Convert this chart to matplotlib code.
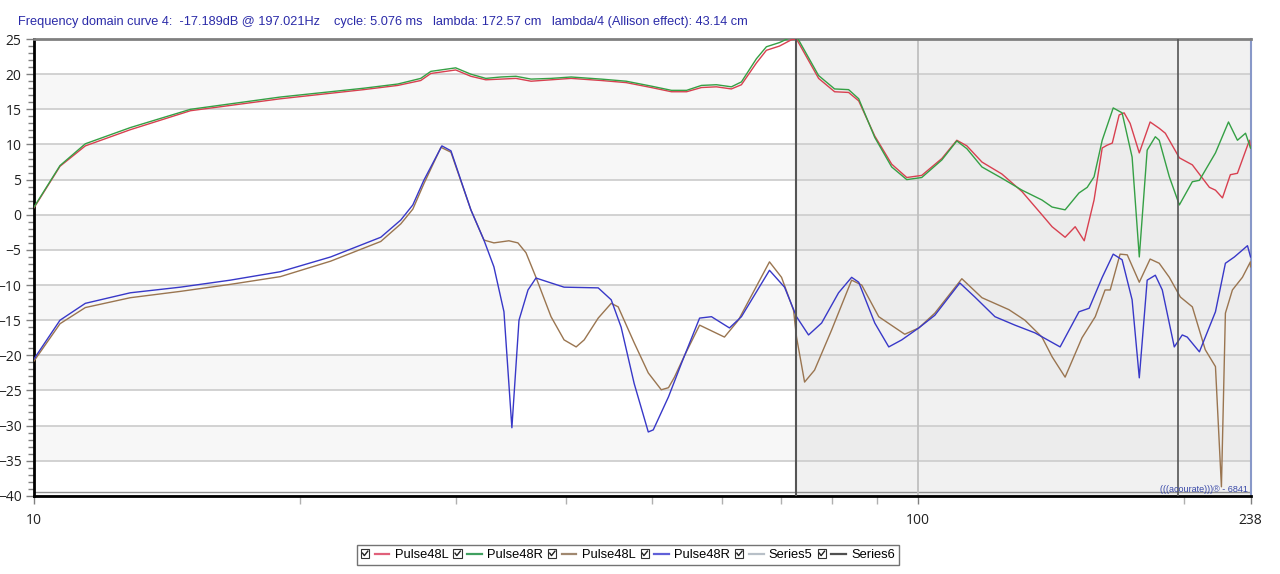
import numpy as np
import matplotlib.pyplot as plt
from matplotlib.legend_handler import HandlerBase
from matplotlib.lines import Line2D
from matplotlib.patches import Rectangle
from matplotlib.ticker import FixedLocator, NullFormatter

# %% data (Hz, dB)
red_f = [10.0, 10.70, 11.43, 12.85, 15.03, 19.0, 23.6, 25.8, 27.39, 28.12, 30.0, 31.21, 32.45,
         33.75, 35.1, 36.51, 38.46, 40.52, 43.83, 46.78, 49.94, 52.64, 54.75, 56.91, 59.18,
         61.53, 63.16, 65.68, 67.41, 69.75, 71.96, 72.91, 77.23, 80.52, 83.51, 85.74, 89.40,
         93.43, 97.17, 101.04, 106.47, 110.71, 113.65, 118.2, 124.5, 131.2, 138.2, 141.9,
         146.8, 150.7, 154.3, 158.3, 161.7, 163.8, 166.0, 169.0, 171.2, 173.9, 178.1, 183.2,
         187.6, 190.6, 197.7, 204.5, 213.8, 217.2, 221.2, 225.8, 230.0, 237.3, 238.0]
red_db = [1.0, 6.9, 9.8, 12.1, 14.8, 16.5, 17.8, 18.4, 19.1, 20.1, 20.6, 19.7, 19.2,
          19.3, 19.4, 19.0, 19.2, 19.4, 19.1, 18.8, 18.1, 17.5, 17.5, 18.1, 18.2,
          17.9, 18.5, 21.6, 23.4, 24.0, 24.9, 25.0, 19.4, 17.5, 17.4, 16.2, 11.2,
          7.2, 5.3, 5.6, 8.0, 10.6, 9.8, 7.5, 5.8, 3.3, 0.0, -1.7,
          -3.2, -1.7, -3.7, 2.1, 9.5, 9.9, 10.2, 14.2, 14.5, 13.0, 8.8, 13.2,
          12.3, 11.6, 8.1, 7.1, 3.9, 3.5, 2.4, 5.7, 5.9, 10.6, 9.5]

green_f = [10.0, 10.70, 11.43, 12.85, 15.03, 19.0, 23.6, 25.8, 27.39, 28.12, 30.0, 31.21, 32.45,
           33.75, 35.1, 36.51, 38.46, 40.52, 43.83, 46.78, 49.94, 52.64, 54.75, 56.91, 59.18,
           61.53, 63.16, 65.68, 67.41, 69.75, 71.96, 72.91, 77.23, 80.52, 83.51, 85.74, 89.40,
           93.43, 97.17, 101.04, 106.47, 110.71, 113.65, 118.2, 124.5, 131.2, 138.2, 141.9,
           146.8, 152.2, 155.5, 158.3, 161.7, 166.4, 170.3, 174.8, 178.1, 181.8, 185.7, 187.6,
           192.6, 197.7, 204.5, 208.3, 217.2, 224.7, 230.0, 234.9, 238.0]
green_db = [1.1, 7.0, 10.1, 12.4, 15.0, 16.75, 18.0, 18.6, 19.4, 20.4, 20.9, 20.0, 19.4,
            19.6, 19.7, 19.3, 19.4, 19.6, 19.3, 19.0, 18.3, 17.7, 17.7, 18.4, 18.5,
            18.2, 18.9, 22.2, 23.9, 24.5, 25.3, 25.4, 19.8, 17.9, 17.8, 16.5, 11.0,
            6.8, 5.0, 5.3, 7.8, 10.5, 9.4, 6.8, 5.2, 3.5, 2.1, 1.1,
            0.7, 3.1, 3.9, 5.4, 10.6, 15.2, 14.5, 8.2, -6.0, 9.2, 11.1, 10.6,
            5.4, 1.4, 4.7, 4.9, 8.8, 13.2, 10.6, 11.6, 9.5]

brown_f = [10.0, 10.70, 11.43, 12.85, 14.64, 16.68, 19.0, 21.66, 24.68, 26.0, 26.83, 27.61, 28.87,
           29.63, 31.21, 32.29, 33.14, 34.46, 35.28, 36.03, 36.98, 38.46, 39.79, 41.06, 41.93,
           43.49, 44.99, 45.81, 47.76, 49.55, 51.26, 52.23, 53.05, 54.47, 56.64, 60.43, 62.66,
           67.95, 70.12, 72.35, 72.91, 74.46, 76.42, 79.89, 84.17, 86.41, 90.33, 96.67, 100.26,
           104.54, 112.17, 118.2, 126.8, 132.2, 138.2, 141.9, 146.8, 153.4, 158.8, 162.9, 165.1,
           169.4, 172.6, 178.1, 183.2, 187.6, 192.6, 198.2, 204.5, 211.5, 217.2, 220.6, 222.9,
           227.0, 233.0, 237.9, 238.0]
brown_db = [-20.8, -15.5, -13.2, -11.8, -10.9, -9.9, -8.8, -6.6, -3.8, -1.3, 0.8, 4.4, 9.6,
            8.9, 0.7, -3.6, -4.0, -3.7, -4.0, -5.4, -8.9, -14.5, -17.8, -18.8, -17.8,
            -14.7, -12.6, -13.1, -18.2, -22.5, -24.9, -24.6, -23.1, -20.0, -15.7, -17.4, -15.0,
            -6.7, -8.9, -13.6, -17.4, -23.8, -22.1, -16.4, -9.3, -10.0, -14.5, -17.0, -16.1,
            -14.0, -9.1, -11.8, -13.5, -15.0, -17.4, -20.2, -23.1, -17.5, -14.5, -10.7, -10.7,
            -5.6, -5.7, -9.6, -6.3, -6.9, -8.9, -11.7, -13.1, -19.2, -21.6, -38.7, -14.0,
            -10.7, -8.9, -6.7, -7.4]

blue_f = [10.0, 10.70, 11.43, 12.85, 14.64, 16.68, 19.0, 21.66, 24.68, 26.0, 26.83, 27.61, 28.94,
          29.63, 31.21, 32.29, 33.14, 34.02, 34.73, 35.38, 36.22, 36.98, 38.46, 39.79, 43.49,
          44.99, 46.17, 47.76, 49.55, 50.20, 52.23, 54.04, 56.64, 58.42, 61.22, 63.16, 67.95,
          70.67, 72.91, 75.23, 77.84, 81.35, 84.17, 85.74, 89.40, 92.72, 95.91, 100.26, 104.54,
          111.58, 116.03, 122.27, 128.8, 135.7, 144.9, 152.2, 156.3, 161.7, 166.4, 170.3, 174.8,
          178.1, 181.8, 185.7, 189.1, 195.1, 199.2, 201.8, 208.3, 217.2, 222.9, 228.2, 236.1,
          238.0]
blue_db = [-20.5, -15.0, -12.6, -11.1, -10.3, -9.3, -8.1, -6.0, -3.2, -0.75, 1.4, 4.9, 9.8,
           9.1, 0.7, -3.6, -7.4, -13.8, -30.3, -15.0, -10.7, -9.0, -9.7, -10.3, -10.4,
           -12.1, -16.0, -24.0, -30.9, -30.6, -25.9, -21.1, -14.7, -14.5, -16.1, -14.5, -7.9,
           -10.3, -14.5, -17.1, -15.4, -11.1, -8.9, -9.6, -15.4, -18.8, -17.8, -16.1, -14.3,
           -9.7, -11.7, -14.5, -15.7, -16.8, -18.8, -13.8, -13.3, -8.9, -5.6, -6.4, -12.1,
           -23.2, -9.3, -8.6, -10.7, -18.8, -17.1, -17.4, -19.5, -13.8, -6.9, -6.0, -4.4,
           -6.0]

marker_lo = 72.9    # Series6
marker_hi = 197.021  # Series5 cursor

legend_labels = ["Pulse48L", "Pulse48R", "Pulse48L", "Pulse48R", "Series5", "Series6"]
legend_colors = ["#e0607a", "#40a060", "#a08870", "#6060d8", "#b8c0c8", "#505050"]

title = ("Frequency domain curve 4:  -17.189dB @ 197.021Hz    cycle: 5.076 ms   "
         "lambda: 172.57 cm   lambda/4 (Allison effect): 43.14 cm")

# %%
plt.rcParams['font.family'] = ['Liberation Sans', 'DejaVu Sans']

fig = plt.figure(figsize=(12.8, 5.74), dpi=100)
ax = fig.add_axes([0.0266, 0.136, 0.9504, 0.796])
ax.set_xscale('log')
ax.set_xlim(10, 238)
ax.set_ylim(-40, 25)

# background bands
for i, lo in enumerate(range(-40, 25, 5)):
    grey = (i % 2 == 1)
    ax.fill_between([10, marker_lo], lo, lo + 5, color='#f7f7f7' if grey else 'white',
                    lw=0, zorder=0)
    ax.fill_between([marker_lo, 238], lo, lo + 5, color='#ececec' if grey else '#f1f1f1',
                    lw=0, zorder=0)
for y in range(-40, 26, 5):
    ax.axhline(y, color='#cfcfcf', lw=1.3, zorder=1)
ax.axhline(-39.5, color='#909090', lw=1.0, zorder=1)
ax.axvline(100, color='#c0c0c0', lw=1.3, zorder=1)

ax.plot(brown_f, brown_db, color='#9a7550', lw=1.0, zorder=3)
ax.plot(blue_f, blue_db, color='#3838c8', lw=1.0, zorder=4)
ax.plot(red_f, red_db, color='#d84050', lw=1.0, zorder=3)
ax.plot(green_f, green_db, color='#35a045', lw=1.0, zorder=4)

ax.axvline(marker_lo, color='#555555', lw=1.5, zorder=5)
ax.axvline(marker_hi, color='#555555', lw=1.2, zorder=5)

for side, col, lw in [('left', 'black', 2.0), ('bottom', 'black', 2.0),
                      ('top', '#808080', 2.0), ('right', '#8898c8', 1.5)]:
    ax.spines[side].set_color(col)
    ax.spines[side].set_linewidth(lw)

ax.xaxis.set_major_locator(FixedLocator([10, 100, 238]))
ax.xaxis.set_minor_locator(FixedLocator([20, 30, 40, 50, 60, 70, 80, 90, 200]))
ax.xaxis.set_minor_formatter(NullFormatter())
ax.set_xticklabels(['10', '100', '238'])
ax.yaxis.set_major_locator(FixedLocator(list(range(-40, 26, 5))))
ax.yaxis.set_minor_locator(FixedLocator([v for v in range(-40, 26) if v % 5]))
ax.tick_params(axis='both', which='major', direction='out', length=6, width=1,
               color='#808080', labelsize=10, pad=3)
ax.tick_params(axis='x', which='minor', direction='out', length=6, width=1, color='#b0b0b0')
ax.tick_params(axis='y', which='minor', direction='out', length=4, width=1, color='#808080')
ax.tick_params(axis='x', which='major', pad=6)
for lab in ax.get_xticklabels() + ax.get_yticklabels():
    lab.set_family(['Open Sans', 'DejaVu Sans'])
    lab.set_color('#202020')

ax.text(0.998, 0.004, "(((acourate)))\u00ae - 6841", transform=ax.transAxes, ha='right',
        va='bottom', fontsize=6.5, color='#3848a8', zorder=6)

fig.text(0.014, 0.962, title, color='#2a2aa8', fontsize=9.2, va='center', ha='left')


class CheckHandler(HandlerBase):
    def create_artists(self, legend, orig_handle, xdescent, ydescent, width, height,
                       fontsize, trans):
        s = height * 0.9
        y0 = (height - s) / 2 - ydescent
        x0 = -xdescent
        box = Rectangle((x0, y0), s, s, fill=False, edgecolor='#303030', lw=0.8,
                        transform=trans)
        chk = Line2D([x0 + 0.2 * s, x0 + 0.42 * s, x0 + 0.85 * s],
                     [y0 + 0.55 * s, y0 + 0.25 * s, y0 + 0.8 * s],
                     color='#202020', lw=1.0, transform=trans)
        ln = Line2D([x0 + s + 4, x0 + width], [y0 + s / 2, y0 + s / 2],
                    color=orig_handle.get_color(), lw=1.6, transform=trans)
        return [box, chk, ln]


handles = [Line2D([], [], color=c) for c in legend_colors]
leg = fig.legend(handles, legend_labels, loc='center', bbox_to_anchor=(0.4906, 0.033),
                 ncol=6, fontsize=9.3, frameon=True, fancybox=False, handlelength=2.2,
                 handletextpad=0.4, columnspacing=0.4, borderpad=0.3,
                 handler_map={Line2D: CheckHandler()})
leg.get_frame().set_edgecolor('#505050')
leg.get_frame().set_linewidth(1.0)

fig.savefig('out.png', dpi=100)
